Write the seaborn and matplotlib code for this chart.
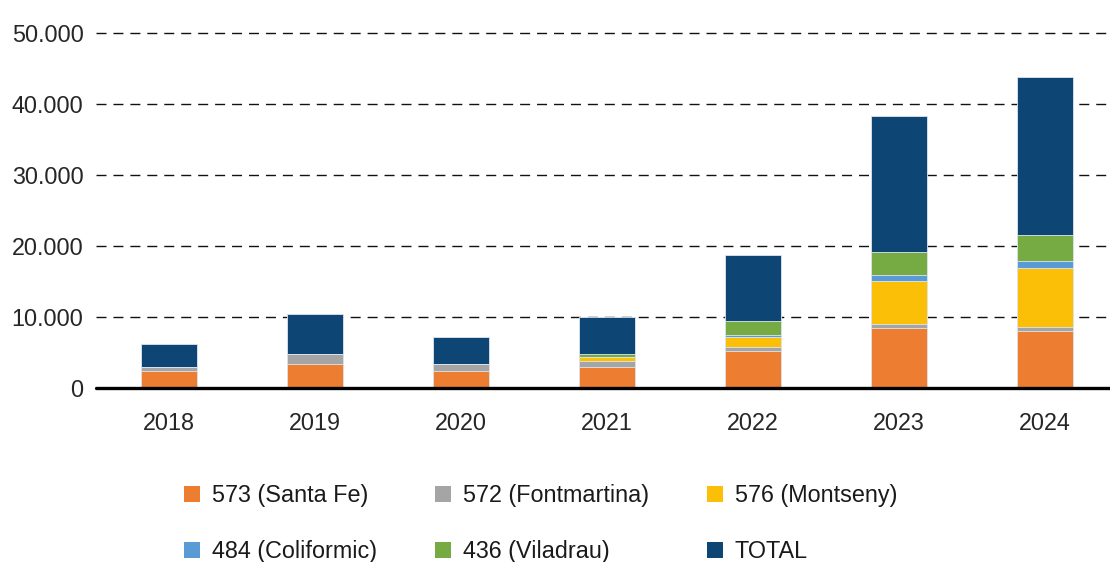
import matplotlib
matplotlib.use("Agg")
import matplotlib.pyplot as plt
from matplotlib.patches import Patch
from matplotlib.ticker import FuncFormatter
import numpy as np
import pandas as pd
import seaborn as sns

# Data (stacked segments per year)
years = ["2018", "2019", "2020", "2021", "2022", "2023", "2024"]
santa_fe = [2400, 3400, 2400, 2900, 5250, 8500, 8050]
fontmartina = [500, 1400, 1000, 950, 480, 500, 500]
montseny = [0, 0, 0, 500, 1400, 6050, 8350]
coliformic = [0, 0, 0, 0, 400, 900, 950]
viladrau = [0, 0, 0, 400, 1900, 3250, 3700]
total = [3300, 5600, 3750, 5250, 9300, 19050, 22250]

series_names = ["573 (Santa Fe)", "572 (Fontmartina)", "576 (Montseny)",
                "484 (Coliformic)", "436 (Viladrau)", "TOTAL"]
series_values = [santa_fe, fontmartina, montseny, coliformic, viladrau, total]
colors = ["#ED7D31", "#A5A5A5", "#FBBF08", "#5B9BD5", "#76AB43", "#0D4674"]

df = pd.DataFrame({"year": years})
for name, vals in zip(series_names, series_values):
    df[name] = vals
cum = df[series_names].cumsum(axis=1)

sns.set_style("white")
plt.rcParams["font.family"] = ["Liberation Sans", "DejaVu Sans"]
plt.rcParams["text.color"] = "#1a1a1a"

fig = plt.figure(figsize=(11.10, 5.62), dpi=100)
ax = fig.add_axes([96 / 1110, 174 / 562, 1022 / 1110, 355 / 562])

# stacked bars: draw cumulative heights from the top layer down
for name, color in reversed(list(zip(series_names, colors))):
    sns.barplot(x=df["year"], y=cum[name], color=color, saturation=1,
                width=0.38, edgecolor="#dfe6ee", linewidth=0.6, ax=ax,
                zorder=3)

ax.set_ylim(0, 50000)
ax.set_xlim(-0.5, 6.5)
ax.set_yticks(np.arange(0, 50001, 10000))
ax.yaxis.set_major_formatter(
    FuncFormatter(lambda v, p: f"{v:,.0f}".replace(",", ".")))
ax.set_xlabel("")
ax.set_ylabel("")

for v in range(10000, 50001, 10000):
    ax.axhline(v, color="#111111", lw=1.0, linestyle=(0, (7.2, 5.0)),
               zorder=1, clip_on=False)
ax.axhline(0, color="black", lw=2.4, zorder=4, clip_on=False)

sns.despine(ax=ax, left=True, bottom=True)
ax.tick_params(axis="y", length=0, pad=9, labelsize=16.8)
ax.tick_params(axis="x", length=0, pad=17, labelsize=16.8)

handles = [Patch(facecolor=c, edgecolor="none") for c in colors]
order = [0, 3, 1, 4, 2, 5]
fig.legend([handles[i] for i in order], [series_names[i] for i in order],
           ncol=3, loc="upper left", bbox_to_anchor=(184 / 1110, 1 - 484 / 562),
           frameon=False, fontsize=16.8, handlelength=0.68, handleheight=0.68,
           handletextpad=0.5, columnspacing=2.5, labelspacing=1.42,
           borderpad=0, borderaxespad=0)

fig.savefig("out.png", dpi=100)
